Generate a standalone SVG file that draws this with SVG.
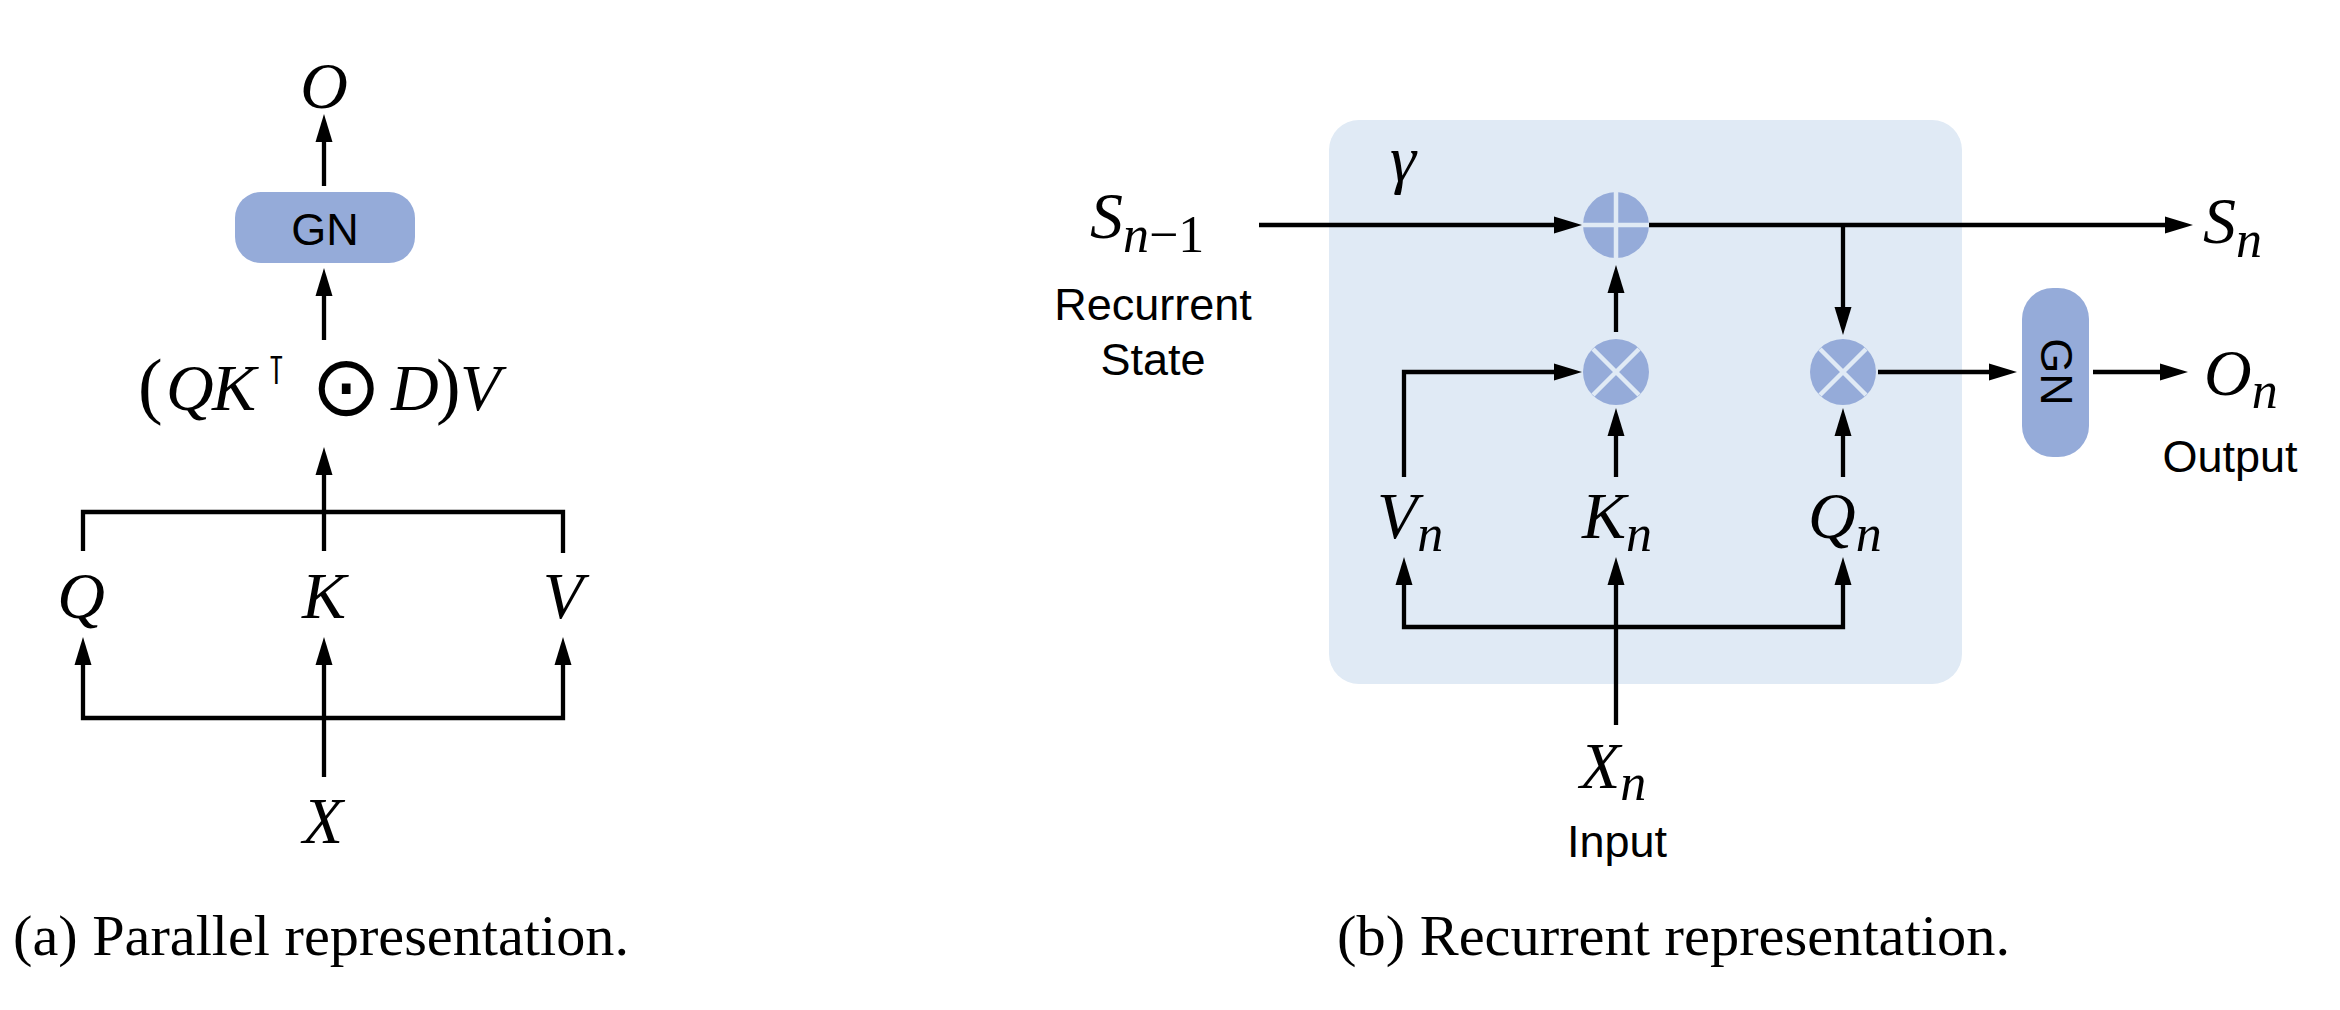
<svg xmlns="http://www.w3.org/2000/svg" width="2340" height="1010" viewBox="0 0 2340 1010">
<style>
.ln{fill:none;stroke:#000;stroke-width:4.3;stroke-linejoin:miter}
.arr{marker-end:url(#ah)}
.math{font-family:"Liberation Serif",serif;font-style:italic;font-size:66px;fill:#000}
.sub{font-size:52px}
.up{font-style:normal}
.lbl{font-family:"Liberation Sans",Arial,sans-serif;font-size:45px;fill:#000;text-anchor:middle}
.cap{font-family:"Liberation Serif","Times New Roman",serif;font-size:58px;fill:#000}
.gn{fill:#95abd9}
.op{fill:#95abd9}
.cross{stroke:#e0eaf5;stroke-width:4.5}
</style>
<defs>
<marker id="ah" markerUnits="userSpaceOnUse" viewBox="0 0 30 20" markerWidth="30" markerHeight="20" refX="2" refY="10" orient="auto">
<path d="M0,1.5 L28,10 L0,18.5 Z" fill="#000"/>
</marker>
</defs>
<rect width="2340" height="1010" fill="#fff"/>

<!-- ===== (a) Parallel ===== -->
<g id="panel-a">
<g id="connectors-a">
<path class="ln arr" d="M324,186 V140"/>
<path class="ln arr" d="M324,340 V294"/>
<path class="ln arr" d="M324,551 V473"/>
<path class="ln" d="M83,551 V512 H563 V553"/>
<path class="ln arr" d="M324,718 H83 V663"/>
<path class="ln arr" d="M324,718 H563 V663"/>
<path class="ln arr" d="M324,777 V663"/>
</g>
<g id="node-O"><text class="math" x="324" y="108" text-anchor="middle">O</text></g>
<g id="node-GN-a">
<rect class="gn" x="235" y="192" width="180" height="71" rx="26"/>
<text class="lbl" x="325" y="245" font-size="43">GN</text>
</g>
<g id="node-formula">
<text class="math" y="410"><tspan class="up" x="138" font-size="74">(</tspan><tspan x="166">Q</tspan><tspan x="212">K</tspan><tspan class="up" x="266" y="384" font-family="DejaVu Sans" font-size="40">⊺</tspan><tspan class="up" x="311" y="415" font-family="DejaVu Sans" font-weight="200" font-size="84">⊙</tspan><tspan x="391" y="410">D</tspan><tspan class="up" x="436" font-size="74">)</tspan><tspan x="460">V</tspan></text>
</g>
<g id="node-Q"><text class="math" x="81" y="618" text-anchor="middle">Q</text></g>
<g id="node-K"><text class="math" x="324" y="618" text-anchor="middle">K</text></g>
<g id="node-V"><text class="math" x="563" y="618" text-anchor="middle">V</text></g>
<g id="node-X"><text class="math" x="323" y="843" text-anchor="middle">X</text></g>
<text class="cap" x="13" y="955" textLength="616" lengthAdjust="spacingAndGlyphs">(a) Parallel representation.</text>
</g>

<!-- ===== (b) Recurrent ===== -->
<g id="panel-b">
<g id="node-block"><rect x="1329" y="120" width="633" height="564" rx="30" fill="#e0eaf5"/></g>
<g id="connectors-b">
<path class="ln arr" d="M1259,225 H1556"/>
<path class="ln arr" d="M1649,225 H2167"/>
<path class="ln arr" d="M1843,225 V309"/>
<path class="ln arr" d="M1616,332 V291"/>
<path class="ln arr" d="M1404,477 V372 H1556"/>
<path class="ln arr" d="M1616,477 V434"/>
<path class="ln arr" d="M1843,477 V434"/>
<path class="ln arr" d="M1878,372 H1991"/>
<path class="ln arr" d="M2093,372 H2162"/>
<path class="ln arr" d="M1616,627 H1404 V583"/>
<path class="ln arr" d="M1616,627 H1843 V583"/>
<path class="ln arr" d="M1616,725 V583"/>
</g>
<g id="node-gamma"><text class="math" x="1390" y="181">γ</text></g>
<g id="node-plus">
<circle class="op" cx="1616" cy="225" r="33"/>
<path class="cross" d="M1583,225 H1649 M1616,192 V258"/>
</g>
<g id="node-mul1">
<circle class="op" cx="1616" cy="372" r="33"/>
<path class="cross" d="M1593,349 L1639,395 M1639,349 L1593,395"/>
</g>
<g id="node-mul2">
<circle class="op" cx="1843" cy="372" r="33"/>
<path class="cross" d="M1820,349 L1866,395 M1866,349 L1820,395"/>
</g>
<g id="node-GN-b">
<rect class="gn" x="2022" y="288" width="67" height="169" rx="31"/>
<text class="lbl" font-size="41" transform="translate(2041,372) rotate(90)" x="0" y="0">GN</text>
</g>
<g id="node-Sprev">
<text class="math" x="1090" y="238">S<tspan class="sub" dy="14">n</tspan><tspan class="sub up">−1</tspan></text>
<text class="lbl" x="1153" y="320">Recurrent</text>
<text class="lbl" x="1153" y="375">State</text>
</g>
<g id="node-Sn"><text class="math" x="2203" y="243">S<tspan class="sub" dy="14">n</tspan></text></g>
<g id="node-On">
<text class="math" x="2204" y="395">O<tspan class="sub" dy="13">n</tspan></text>
<text class="lbl" x="2230" y="472">Output</text>
</g>
<g id="node-Vn"><text class="math" x="1377" y="538">V<tspan class="sub" dy="13">n</tspan></text></g>
<g id="node-Kn"><text class="math" x="1582" y="538">K<tspan class="sub" dy="13">n</tspan></text></g>
<g id="node-Qn"><text class="math" x="1808" y="538">Q<tspan class="sub" dy="13">n</tspan></text></g>
<g id="node-Xn">
<text class="math" x="1580" y="788">X<tspan class="sub" dy="12">n</tspan></text>
<text class="lbl" x="1617" y="857">Input</text>
</g>
<text class="cap" x="1337" y="955" textLength="673" lengthAdjust="spacingAndGlyphs">(b) Recurrent representation.</text>
</g>
</svg>
